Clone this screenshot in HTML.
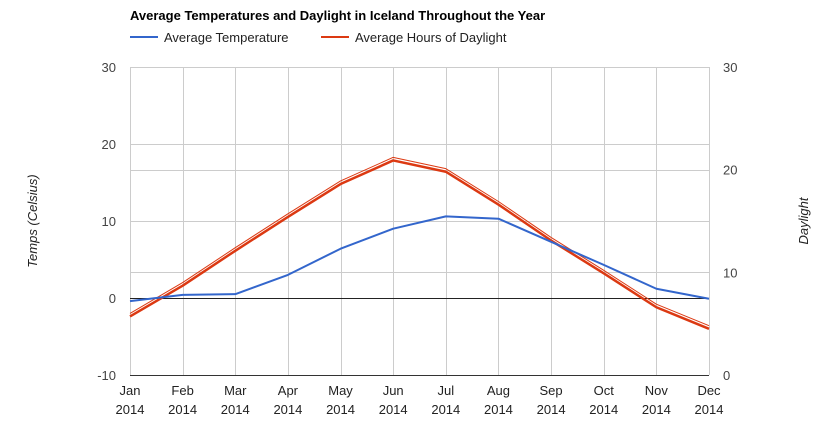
<!DOCTYPE html>
<html><head><meta charset="utf-8"><style>
body{margin:0;background:#fff;font-family:"Liberation Sans",Arial,sans-serif;}
svg text{font-family:"Liberation Sans",Arial,sans-serif;}
</style></head><body>
<svg id="chart" width="839" height="435" viewBox="0 0 839 435">
<text x="130" y="20" font-size="13" font-weight="bold" fill="#000">Average Temperatures and Daylight in Iceland Throughout the Year</text>
<g><line x1="130" y1="37" x2="158" y2="37" stroke="#3366cc" stroke-width="2"/><text x="164" y="42" font-size="13" fill="#222">Average Temperature</text></g>
<g><line x1="321" y1="37" x2="349" y2="37" stroke="#dc3912" stroke-width="2"/><text x="355" y="42" font-size="13" fill="#222">Average Hours of Daylight</text></g>
<text transform="translate(37,221) rotate(-90)" text-anchor="middle" font-size="13" font-style="italic" fill="#222">Temps (Celsius)</text>
<text transform="translate(808,221) rotate(-90)" text-anchor="middle" font-size="13" font-style="italic" fill="#222">Daylight</text>
<g id="grid"></g><g id="axes"></g><g id="series"></g>
</svg>
<script>
const months=["Jan","Feb","Mar","Apr","May","Jun","Jul","Aug","Sep","Oct","Nov","Dec"];
const yearLabel="2014";
const temps=[-0.4,0.4,0.5,3.0,6.4,9.0,10.6,10.3,7.3,4.3,1.2,-0.1];
const daylight=[5.7,8.7,12.1,15.4,18.6,20.9,19.8,16.6,13.1,9.9,6.6,4.5];
const daylightOutline=[6.0,9.0,12.4,15.7,18.9,21.2,20.1,16.9,13.4,10.2,6.9,4.8];
const leftTicks=[-10,0,10,20,30];
const rightTicks=[0,10,20,30];
const L=130,R=709,T=67,B=375;
const ns="http://www.w3.org/2000/svg";
function x(i){return L+i*(R-L)/(months.length-1);}
function yL(v){return B-(v+10)/40*(B-T);}
function yR(v){return B-v/30*(B-T);}
function c(v){return Math.round(v)+0.5;}
function mk(tag,attrs,parent){const e=document.createElementNS(ns,tag);for(const k in attrs)e.setAttribute(k,attrs[k]);parent.appendChild(e);return e;}
const grid=document.getElementById('grid'),axes=document.getElementById('axes'),series=document.getElementById('series');
leftTicks.forEach(v=>{const l=mk('line',{x1:L,x2:R,y1:c(yL(v)),y2:c(yL(v)),stroke:'#ccc','stroke-width':1},grid);

});
rightTicks.filter(v=>v>0&&v<30).forEach(v=>{const l=mk('line',{x1:L,x2:R,y1:c(yR(v)),y2:c(yR(v)),stroke:'#ccc','stroke-width':1},grid);

});
months.forEach((m,i)=>{const l=mk('line',{x1:c(x(i)),x2:c(x(i)),y1:T,y2:B,stroke:'#ccc','stroke-width':1},grid);


const t=mk('text',{x:x(i),y:B+20,'text-anchor':'middle','font-size':13,fill:'#222'},axes);t.textContent=m;


const t2=mk('text',{x:x(i),y:B+39,'text-anchor':'middle','font-size':13,fill:'#222'},axes);t2.textContent=yearLabel;

});
const zl=mk('line',{x1:L,x2:R,y1:c(yL(0)),y2:c(yL(0)),stroke:'#222','stroke-width':1},axes);


const bl=mk('line',{x1:L,x2:R,y1:c(B),y2:c(B),stroke:'#333','stroke-width':1},axes);


leftTicks.forEach(v=>{const t=mk('text',{x:L-14,y:yL(v)+5,'text-anchor':'end','font-size':13,fill:'#444'},axes);t.textContent=v;

});
rightTicks.forEach(v=>{const t=mk('text',{x:R+14,y:yR(v)+5,'text-anchor':'start','font-size':13,fill:'#444'},axes);t.textContent=v;

});
function line(vals,fy,color,w,name){const p=mk('polyline',{points:vals.map((v,i)=>x(i)+','+fy(v)).join(' '),fill:'none',stroke:color,'stroke-width':w,'stroke-linejoin':'round'},series);

}
line(daylightOutline,yR,'#dc3912',1,'daylight-outline-line');
line(daylight,yR,'#dc3912',2.5,'daylight-line');
line(temps,yL,'#3366cc',2,'temperature-line');
</script>
</body></html>
